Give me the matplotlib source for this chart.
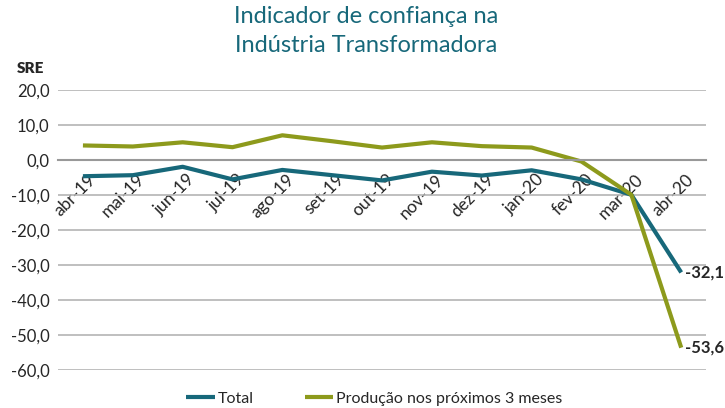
import numpy as np
import matplotlib
matplotlib.use("Agg")
from matplotlib import pyplot as plt
from matplotlib.ticker import FuncFormatter

plt.rcParams['font.family'] = ['Lato', 'DejaVu Sans']

months = ['abr-19', 'mai-19', 'jun-19', 'jul-19', 'ago-19', 'set-19', 'out-19',
          'nov-19', 'dez-19', 'jan-20', 'fev-20', 'mar-20', 'abr-20']
total = [-4.6, -4.3, -1.9, -5.5, -2.8, -4.3, -5.8, -3.3, -4.4, -2.9, -5.5, -9.9, -32.1]
producao = [4.2, 3.9, 5.1, 3.7, 7.1, 5.4, 3.6, 5.1, 4.0, 3.6, -0.4, -9.9, -53.6]

teal = '#17687a'
olive = '#8d9a1c'
text_color = '#262626'

fig = plt.figure(figsize=(7.25, 4.08), dpi=100)
ax = fig.add_axes([0.08, 0.093, 0.894, 0.686])

x = np.arange(len(months))
ax.plot(x, total, color=teal, lw=3, label='Total', solid_capstyle='butt')
ax.plot(x, producao, color=olive, lw=3, label='Produção nos próximos 3 meses',
        solid_capstyle='butt')

ax.set_xlim(-0.5, len(months) - 0.5)
ax.set_ylim(-60, 20)
ax.set_yticks(np.arange(-60, 21, 10))
ax.yaxis.set_major_formatter(FuncFormatter(lambda v, p: f'{v:.1f}'.replace('.', ',')))
ax.grid(axis='y', color='#b4b4b4', lw=1.2)
ax.set_axisbelow(True)
for s in ['top', 'right', 'left']:
    ax.spines[s].set_visible(False)
ax.spines['bottom'].set_position(('data', 0))
ax.spines['bottom'].set_color('#999999')
ax.spines['bottom'].set_linewidth(1.5)
ax.tick_params(axis='y', length=0, labelsize=12, labelcolor=text_color, pad=6)
ax.tick_params(axis='x', length=0, labelsize=12.5, labelcolor=text_color, pad=8)
ax.set_xticks(x)
ax.set_xticklabels(months, rotation=45, ha='right', va='top', rotation_mode='anchor')
for lbl in ax.get_xticklabels():
    lbl.set_transform(lbl.get_transform() + matplotlib.transforms.ScaledTranslation(3 / 72, 0, fig.dpi_scale_trans))

ax.text(x[-1] + 0.08, total[-1], f'{total[-1]:.1f}'.replace('.', ','), fontsize=12,
        fontweight='bold', color=text_color, va='center', ha='left')
ax.text(x[-1] + 0.08, producao[-1], f'{producao[-1]:.1f}'.replace('.', ','), fontsize=12,
        fontweight='bold', color=text_color, va='center', ha='left')

fig.text(0.042, 0.82, 'SRE', fontsize=11, fontweight='heavy', color=text_color, ha='center')
fig.text(0.505, 0.985, 'Indicador de confiança na\nIndústria Transformadora', fontsize=17,
         color=teal, ha='center', va='top', linespacing=1.45)

fig.legend(loc='lower center', bbox_to_anchor=(0.516, -0.03), ncol=2, frameon=False,
           fontsize=11.5, handlelength=1.8, columnspacing=3.2, handletextpad=0.15,
           labelcolor=text_color)

fig.savefig('out.png', dpi=100)
